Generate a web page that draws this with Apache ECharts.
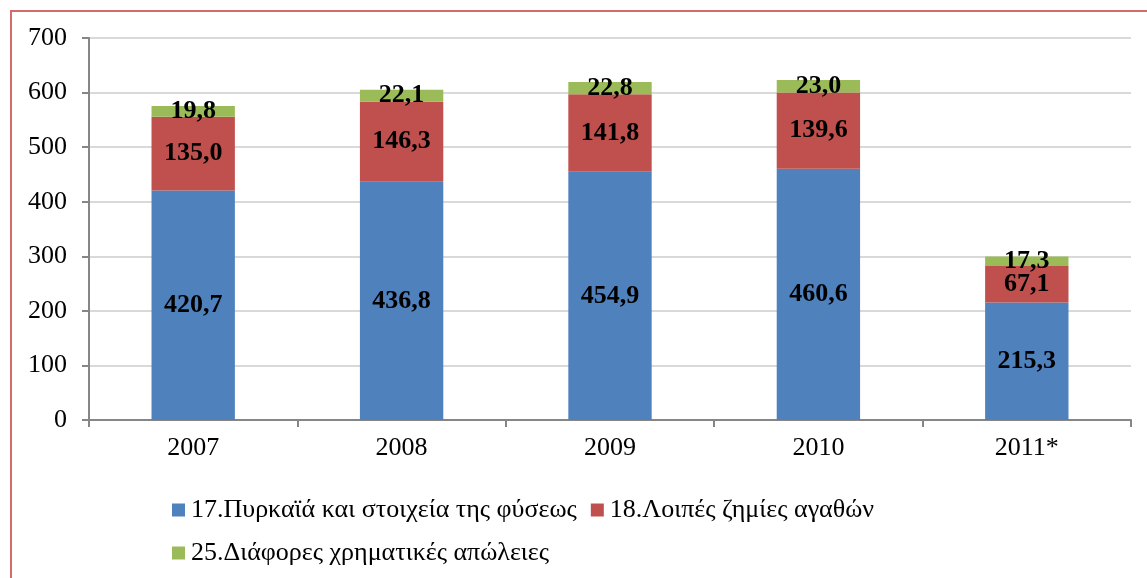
<!DOCTYPE html>
<html>
<head>
<meta charset="utf-8">
<script src="https://cdn.jsdelivr.net/npm/echarts@6/dist/echarts.min.js"></script>
<style>
  html, body { margin: 0; padding: 0; background: #fff; }
  #chart { width: 1147px; height: 578px; }
  #frame { position: absolute; left: 10px; top: 10px; width: 1200px; height: 600px; border: 2px solid #d36b6b; box-sizing: border-box; pointer-events: none; }
</style>
</head>
<body>
<div id="chart"></div>
<div id="frame"></div>
<script>
const years = ['2007', '2008', '2009', '2010', '2011*']
const fires = [420.7, 436.8, 454.9, 460.6, 215.3]
const damages = [135.0, 146.3, 141.8, 139.6, 67.1]
const losses = [19.8, 22.1, 22.8, 23.0, 17.3]
const names = ['17.Πυρκαϊά και στοιχεία της φύσεως', '18.Λοιπές ζημίες αγαθών', '25.Διάφορες χρηματικές απώλειες']
const colors = ['#4f81bd', '#c0504d', '#9bbb59']

const font = '"Liberation Serif", "DejaVu Serif", serif'

function fmt (v) {
  return v.toFixed(1).replace('.', ',')
}

let series = [fires, damages, losses].map((data, idx) => ({
  name: names[idx],
  type: 'bar',
  stack: 'total',
  barWidth: '40%',
  data: data,
  itemStyle: { color: colors[idx] },
  label: {
    show: true,
    position: 'inside',
    color: '#000',
    fontFamily: font,
    fontWeight: 'bold',
    fontSize: 26,
    formatter: p => fmt(p.value)
  }
}))

let legendBase = {
  itemWidth: 13,
  itemHeight: 13,
  itemGap: 14,
  icon: 'rect',
  orient: 'horizontal',
  textStyle: { fontFamily: font, fontSize: 26, color: '#000', padding: [0, 0, 0, 1] }
}

let option = {
  animation: false,
  textStyle: { fontFamily: font },
  grid: { left: 89, top: 38, right: 16, bottom: 158 },
  legend: [
    Object.assign({}, legendBase, { left: 167, top: 492, data: [names[0], names[1]] }),
    Object.assign({}, legendBase, { left: 167, top: 535, data: [names[2]] })
  ],
  xAxis: {
    type: 'category',
    data: years,
    axisLine: { lineStyle: { color: '#868686', width: 2 } },
    axisTick: { show: true, length: 7, lineStyle: { color: '#868686', width: 2 } },
    axisLabel: { color: '#000', fontSize: 26, fontFamily: font, margin: 15 }
  },
  yAxis: {
    type: 'value',
    min: 0,
    max: 700,
    interval: 100,
    axisLine: { show: true, lineStyle: { color: '#868686', width: 2 } },
    axisTick: { show: true, length: 7, lineStyle: { color: '#868686', width: 2 } },
    splitLine: { lineStyle: { color: '#d9d9d9', width: 2 } },
    axisLabel: { color: '#000', fontSize: 26, fontFamily: font, margin: 22 }
  },
  series: series
}

var myChart = echarts.init(document.getElementById('chart'))
myChart.setOption(option)
</script>
</body>
</html>
